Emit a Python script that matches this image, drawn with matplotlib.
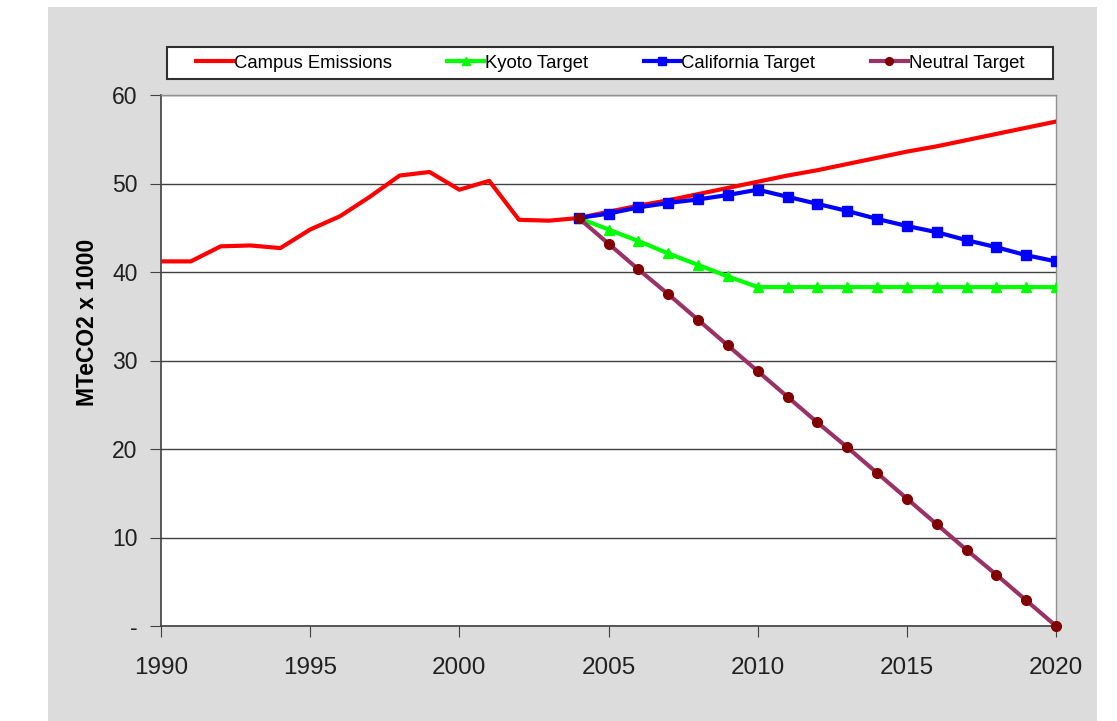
import matplotlib.pyplot as plt
from matplotlib.patches import Rectangle
from matplotlib.ticker import FuncFormatter

plt.rcParams['font.family'] = ['Liberation Sans', 'DejaVu Sans']

years = list(range(1990, 2021))
campus = [41.2, 41.2, 42.9, 43.0, 42.7, 44.8, 46.3, 48.5, 50.9, 51.3, 49.3,
          50.3, 45.9, 45.8, 46.1, 46.8, 47.5, 48.1, 48.8, 49.5, 50.2, 50.9,
          51.5, 52.2, 52.9, 53.6, 54.2, 54.9, 55.6, 56.3, 57.0]

target_years = list(range(2004, 2021))
kyoto = [46.1, 44.8, 43.5, 42.1, 40.8, 39.5, 38.3, 38.3, 38.3, 38.3, 38.3,
         38.3, 38.3, 38.3, 38.3, 38.3, 38.3]
california = [46.1, 46.6, 47.3, 47.8, 48.2, 48.7, 49.3, 48.5, 47.7, 46.9,
              46.0, 45.2, 44.5, 43.6, 42.8, 41.9, 41.2]
neutral = [46.1, 43.2, 40.3, 37.5, 34.6, 31.7, 28.8, 25.9, 23.0, 20.2, 17.3,
           14.4, 11.5, 8.6, 5.8, 2.9, 0.0]

W, H = 1117, 721
fig = plt.figure(figsize=(W / 100, H / 100), dpi=100)
fig.patch.set_facecolor('white')
# grey chart area behind everything
fig.patches.append(Rectangle((48 / W, 0), (1097 - 48) / W, (H - 7) / H,
                             transform=fig.transFigure, facecolor='#dcdcdc',
                             edgecolor='none', zorder=-5))
# legend box (wider than matplotlib's own frame)
fig.patches.append(Rectangle((167 / W, 1 - 79 / H), (1053 - 167) / W, 32 / H,
                             transform=fig.transFigure, facecolor='white',
                             edgecolor='#303030', lw=1.5, zorder=2))

ax = fig.add_axes([161 / W, 1 - 626 / H, (1056 - 161) / W, (626 - 95) / H])
ax.set_zorder(1)
ax.set_facecolor('white')

ax.plot(years, campus, color='#ff0000', lw=3, label='Campus Emissions', zorder=3)
ax.plot(target_years, kyoto, color='#00ff00', lw=3, marker='^', ms=7,
        label='Kyoto Target', zorder=4)
ax.plot(target_years, california, color='#0000ff', lw=3, marker='s', ms=7,
        label='California Target', zorder=5)
ax.plot(target_years, neutral, color='#993366', lw=3, marker='o', ms=7,
        mfc='#800000', mec='#800000', label='Neutral Target', zorder=6,
        clip_on=False)

ax.set_xlim(1990, 2020)
ax.set_ylim(0, 60)
ax.set_xticks(range(1990, 2021, 5))
ax.set_yticks(range(0, 61, 10))
ax.yaxis.set_major_formatter(FuncFormatter(lambda v, p: '-' if v == 0 else '%d' % v))
ax.grid(axis='y', color='#404040', lw=1)
ax.set_axisbelow(True)
ax.tick_params(axis='both', color='#404040', length=8, labelcolor='#202020')
ax.tick_params(axis='x', labelsize=17.5, pad=14)
ax.tick_params(axis='y', labelsize=16.5, pad=9)

for side in ['left', 'bottom']:
    ax.spines[side].set_color('#404040')
    ax.spines[side].set_linewidth(1.2)
for side in ['top', 'right']:
    ax.spines[side].set_color('#909090')
    ax.spines[side].set_linewidth(1)

ax.set_ylabel('MTeCO2 x 1000', fontsize=16.5, fontweight='bold')
ax.yaxis.set_label_coords(-0.069, 0.572)

leg = fig.legend(loc='center', bbox_to_anchor=((167 + 1053) / 2 / W, 1 - 63 / H),
                 ncol=4, fontsize=13.3, frameon=False,
                 handlelength=2.0, handletextpad=0.05, columnspacing=3.0,
                 borderpad=0.4, borderaxespad=0, markerscale=0.8)
leg.set_zorder(3)

fig.savefig('out.png', dpi=100, facecolor=fig.get_facecolor())
